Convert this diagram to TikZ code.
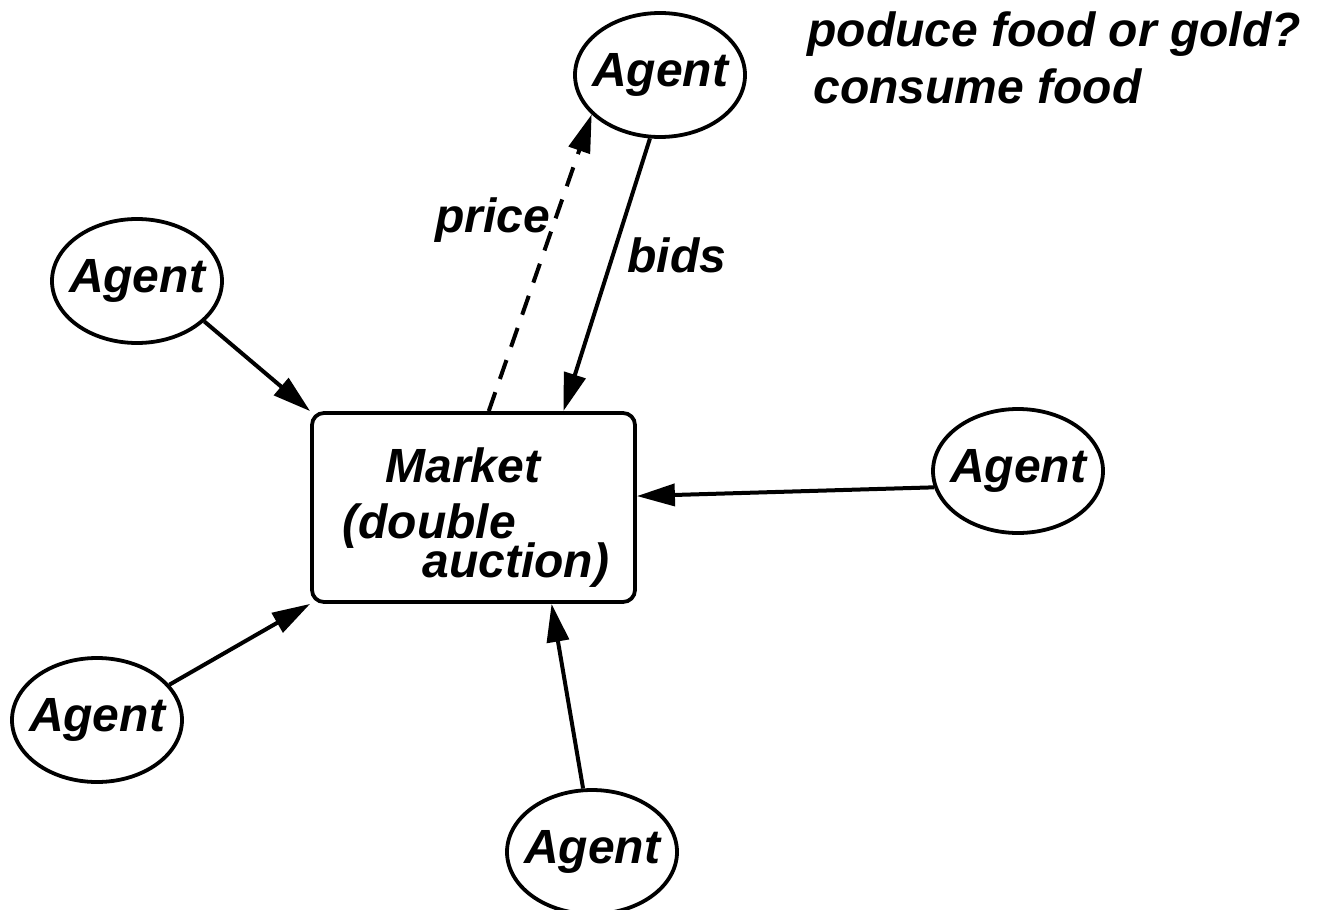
\documentclass[tikz,border=0pt]{standalone}
\usepackage{fontspec}
\setmainfont{Liberation Sans}
\usetikzlibrary{shapes.geometric,arrows.meta}

\begin{document}
\begin{tikzpicture}[x=0.5pt,y=-0.5pt,
        every node/.style={font=\fontsize{24}{28}\selectfont\bfseries\itshape},
        agent/.style={draw,ellipse,line width=1.9pt,inner sep=0pt,
            minimum width=85pt,minimum height=62pt},
        link/.style={line width=2pt,-{Triangle[length=19pt,width=11pt]}},
        lbl/.style={inner sep=0pt,anchor=base west}]
        \useasboundingbox (0,0) rectangle (1325,909);

        % Рынок.
        \node[draw,line width=1.9pt,rounded corners=6pt,inner sep=0pt,
            minimum width=161.5pt,minimum height=94.5pt] (mkt) at (473.5,507.5) {};
        \node[inner sep=0pt,anchor=base] (mktA) at (463,482) {Market};
        \node[lbl] (mktB) at (342,538) {(double};
        \node[lbl] (mktC) at (422,577) {auction)};

        % Агенты.
        \node[agent] (agT) at (660,75) {\makebox[0pt]{Agent}};
        \node[agent] (agL) at (137,281) {\makebox[0pt]{Agent}};
        \node[agent] (agR) at (1018,471) {\makebox[0pt]{Agent}};
        \node[agent] (agBL) at (97,720) {\makebox[0pt]{Agent}};
        \node[agent] (agB) at (592,852) {\makebox[0pt]{Agent}};

        % Заявки и цена.
        \draw[link] (agL.329) -- (mkt.north west);
        \draw[link] (agR.191) -- (mkt.4);
        \draw[link] (agBL.26) -- (mkt.south west);
        \draw[link] (agB.98) -- (mkt.309);
        \draw[link] (agT.261) -- (mkt.47);
        \draw[link,dash pattern=on 10pt off 7pt] (mkt.81) -- (agT.210);

        \node[lbl] (price) at (435,232) {price};
        \node[lbl] (bids) at (627,272) {bids};

        % Вопрос агента.
        \node[lbl] (qA) at (807,47) {poduce food or gold?};
        \node[lbl] (qB) at (813,104) {consume food};
    \end{tikzpicture}
\end{document}
